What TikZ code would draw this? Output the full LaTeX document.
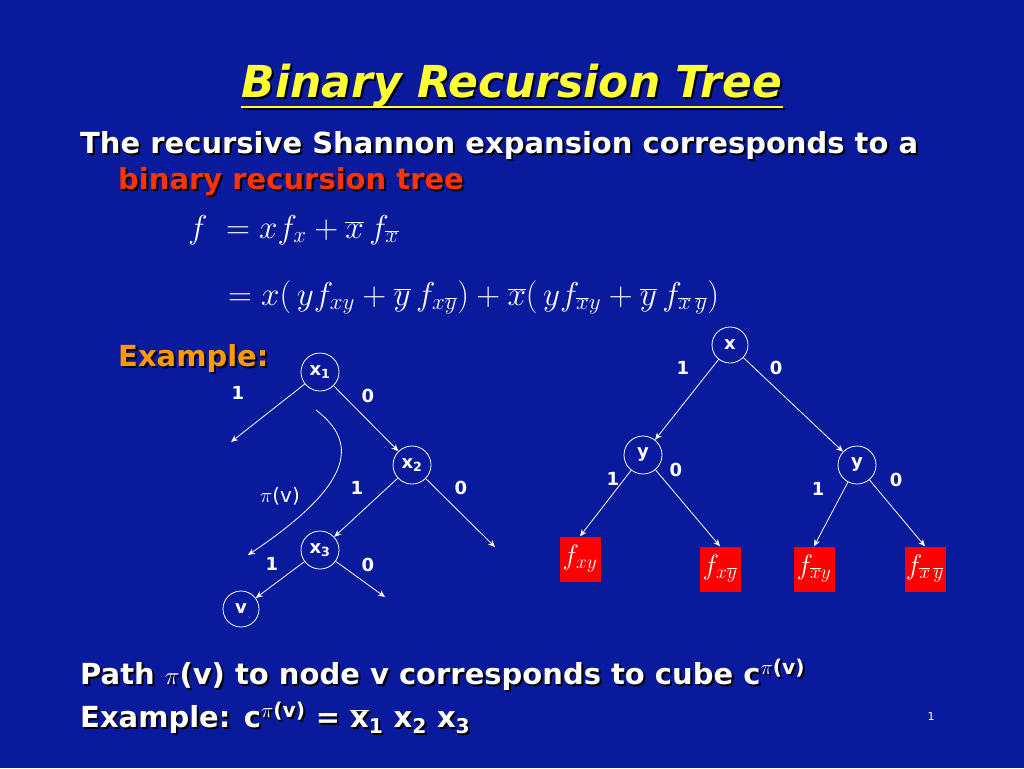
\documentclass[tikz,border=0pt]{standalone}
\usepackage{fontspec}
\setsansfont{DejaVu Sans}
\setmainfont{Liberation Serif}
\usetikzlibrary{arrows.meta}
\definecolor{bg}{HTML}{0A1A9C}
\definecolor{ttl}{HTML}{FFFF33}
\definecolor{rd}{HTML}{FF3300}
\definecolor{org}{HTML}{FF9900}
\definecolor{bx}{HTML}{FF0000}
\newcommand{\shtxt}[5]{% name, x, y, color, text
  \node[txt,black,anchor=base west] (#1s) at (#2+2,#3+2) {#5};
  \node[txt,#4,anchor=base west] (#1) at (#2,#3) {#5};}
\newcommand{\piv}{\textsuperscript{$\pi$(v)}}
\newcommand{\lf}[1]{\scalebox{1.35}{\fontsize{20}{24}\selectfont$#1$}}
\tikzset{
  txt/.style={font=\sffamily\bfseries\fontsize{29}{32}\selectfont,inner sep=0pt},
  lbl/.style={txt,font=\sffamily\bfseries\fontsize{18}{20}\selectfont,text=white},
  vtx/.style={circle,draw=white,thick,minimum size=38pt,inner sep=0pt,font=\sffamily\bfseries\fontsize{18}{20}\selectfont,text=white},
  leaf/.style={fill=bx,minimum width=41pt,minimum height=45pt,inner sep=0pt,text=white},
  arr/.style={white,thick,-{Stealth[length=7pt,width=6pt]}},
  mth/.style={white,inner sep=0pt,anchor=base west}
}
\begin{document}
\begin{tikzpicture}[x=1pt,y=-1pt]
\fill[bg] (0,0) rectangle (1024,768);
\useasboundingbox (0,0) rectangle (1024,768);
% title
\node[font=\sffamily\bfseries\itshape\fontsize{44}{48}\selectfont,black,inner sep=0pt,anchor=base] (ts) at (514,99) {Binary Recursion Tree};
\node[font=\sffamily\bfseries\itshape\fontsize{44}{48}\selectfont,ttl,inner sep=0pt,anchor=base] (t) at (512,97) {Binary Recursion Tree};
\draw[black,line width=2.5pt] ([shift={(2,12)}]t.base west) -- ([shift={(2,12)}]t.base east);
\draw[ttl,line width=2.5pt] ([shift={(0,10)}]t.base west) -- ([shift={(0,10)}]t.base east);
\shtxt{l1}{80}{153}{white}{The recursive Shannon expansion corresponds to a}
\shtxt{l2}{118}{189}{rd}{binary recursion tree}
\shtxt{ex}{118}{366}{org}{Example:}
% math
\node[mth] (m1) at (188,238) {\scalebox{1.33}{\fontsize{24}{28}\selectfont$f\;=xf_{x}+\overline{x}\,f_{\overline{x}}$}};
\node[mth] (m2) at (228,305) {\scalebox{1.33}{\fontsize{24}{28}\selectfont$=x(\,yf_{xy}+\overline{y}\,f_{x\overline{y}})+\overline{x}(\,yf_{\overline{x}y}+\overline{y}\,f_{\overline{x}\,\overline{y}})$}};
% left tree
\node[vtx] (x1) at (320,372) {x\textsubscript{1}};
\node[vtx] (x2) at (412,465) {x\textsubscript{2}};
\node[vtx] (x3) at (320,550) {x\textsubscript{3}};
\node[vtx,minimum size=36pt] (v) at (241,609) {v};
\coordinate (e1) at (231,442);
\coordinate (e2) at (495,547);
\coordinate (e3) at (385,597);
\draw[arr] (x1) -- (e1);
\draw[arr] (x1) -- (x2);
\draw[arr] (x2) -- (x3);
\draw[arr] (x2) -- (e2);
\draw[arr] (x3) -- (v);
\draw[arr] (x3) -- (e3);
\coordinate (cs) at (316,410);
\coordinate (ce) at (248,555);
\draw[arr] (cs) .. controls (355,440) and (360,480) .. (ce);
\node[lbl] (a1) at (238,393) {1};
\node[lbl] (a2) at (368,396) {0};
\node[lbl] (a3) at (357,488) {1};
\node[lbl] (a4) at (461,488) {0};
\node[lbl] (a5) at (272,564) {1};
\node[lbl] (a6) at (368,565) {0};
\node[white,font=\sffamily\fontsize{20}{22}\selectfont,inner sep=0pt] (pv) at (280,496) {$\pi$(v)};
% right tree
\node[vtx,minimum size=36pt] (x) at (730,345) {x};
\node[vtx] (y1) at (643,455) {y};
\node[vtx] (y2) at (857,465) {y};
\node[leaf] (f1) at (580,559) {\lf{f_{xy}}};
\node[leaf] (f2) at (720,569) {\lf{f_{x\overline{y}}}};
\node[leaf] (f3) at (814,569) {\lf{f_{\overline{x}y}}};
\node[leaf] (f4) at (925,569) {\lf{f_{\overline{x}\,\overline{y}}}};
\draw[arr] (x) -- (y1);
\draw[arr] (x) -- (y2);
\draw[arr] (y1) -- (f1.north);
\draw[arr] (y1) -- (f2.north);
\draw[arr] (y2) -- (f3.north);
\draw[arr] (y2) -- (f4.north);
\node[lbl] (b1) at (683,368) {1};
\node[lbl] (b2) at (776,368) {0};
\node[lbl] (b3) at (613,479) {1};
\node[lbl] (b4) at (676,470) {0};
\node[lbl] (b5) at (818,489) {1};
\node[lbl] (b6) at (896,480) {0};
% bottom
\shtxt{p1}{80}{684}{white}{Path $\pi$(v) to node v corresponds to cube c\piv}
\shtxt{p2}{80}{727}{white}{Example: c\piv{} = $\overline{\mbox{x}}$\textsubscript{1} x\textsubscript{2} x\textsubscript{3}}
\node[white,font=\sffamily\fontsize{11}{12}\selectfont,inner sep=0pt] (pg) at (931,716) {1};
\end{tikzpicture}
\end{document}
